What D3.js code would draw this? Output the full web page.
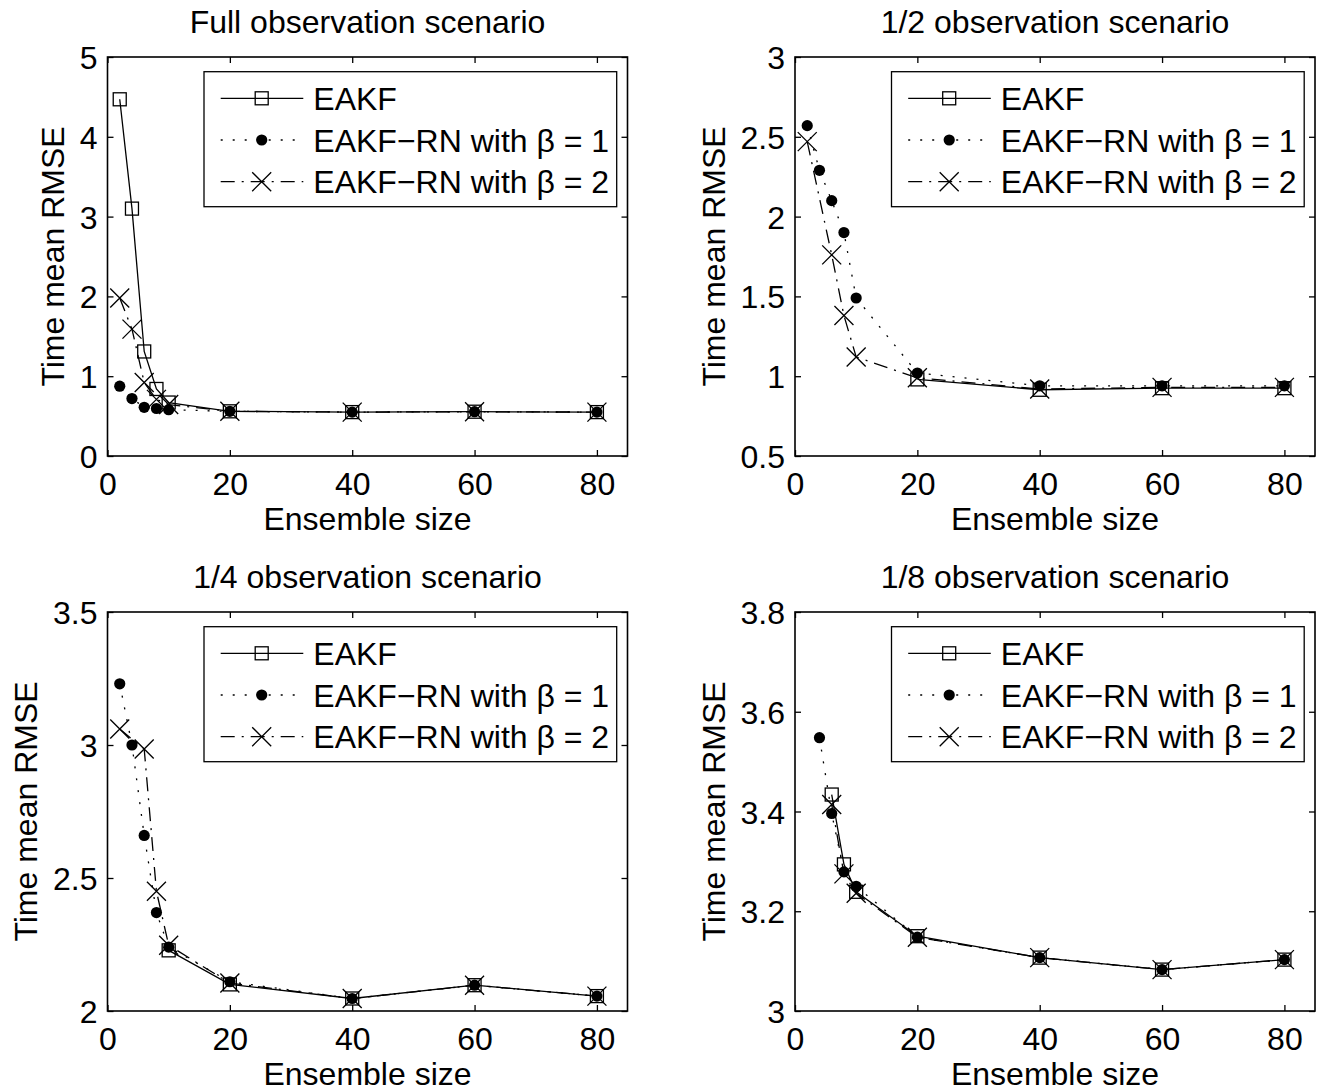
<!DOCTYPE html>
<html>
<head>
<meta charset="utf-8">
<script src="https://cdn.jsdelivr.net/npm/d3@7"></script>
<style>
  html, body { margin: 0; padding: 0; background: #fff; }
  svg text { font-family: "Liberation Sans", Arial, Helvetica, sans-serif; fill: #000; }
</style>
</head>
<body>
<svg id="chart" width="1320" height="1092"></svg>
<script>
// ---- Data ----
const ensembleSizes = [2, 4, 6, 8, 10, 20, 40, 60, 80];
const seriesNames = ["EAKF", "EAKF\u2212RN with \u03b2 = 1", "EAKF\u2212RN with \u03b2 = 2"];
const panelTitles = ["Full observation scenario", "1/2 observation scenario", "1/4 observation scenario", "1/8 observation scenario"];
const xTicks = [0, 20, 40, 60, 80];

// Full observation
const fullEAKF  = [4.47, 3.10, 1.31, 0.84, 0.67, 0.56, 0.55, 0.555, 0.55];
const fullBeta1 = [0.875, 0.72, 0.61, 0.595, 0.58, 0.56, 0.55, 0.555, 0.55];
const fullBeta2 = [1.98, 1.59, 0.92, 0.71, 0.645, 0.56, 0.55, 0.555, 0.55];
const fullYTicks = [0, 1, 2, 3, 4, 5];

// 1/2 observation
const halfEAKF  = [null, null, null, null, null, 0.98, 0.915, 0.925, 0.925];
const halfBeta1 = [2.57, 2.29, 2.10, 1.90, 1.49, 1.02, 0.94, 0.94, 0.94];
const halfBeta2 = [2.47, null, 1.76, 1.38, 1.12, 0.99, 0.92, 0.93, 0.93];
const halfYTicks = [0.5, 1, 1.5, 2, 2.5, 3];

// 1/4 observation
const quarterEAKF  = [null, null, null, null, 2.228, 2.10, 2.047, 2.097, 2.056];
const quarterBeta1 = [3.23, 3.00, 2.66, 2.37, 2.24, 2.11, 2.047, 2.097, 2.056];
const quarterBeta2 = [3.06, null, 2.985, 2.45, 2.247, 2.105, 2.047, 2.097, 2.056];
const quarterYTicks = [2, 2.5, 3, 3.5];

// 1/8 observation
const eighthEAKF  = [null, null, 3.434, 3.294, 3.239, 3.15, 3.107, 3.083, 3.103];
const eighthBeta1 = [null, 3.548, 3.396, 3.279, 3.25, 3.148, 3.107, 3.083, 3.103];
const eighthBeta2 = [null, null, 3.414, 3.275, 3.236, 3.148, 3.107, 3.083, 3.103];
const eighthYTicks = [3, 3.2, 3.4, 3.6, 3.8];

// ---- Layout ----
const svg = d3.select("#chart");
const W = 520, H = 399;
const FONT = 32;
const panels = [
  { left: 107.5, top: 57,  title: panelTitles[0], series: [fullEAKF, fullBeta1, fullBeta2], yDomain: [0, 5], yTicks: fullYTicks },
  { left: 795,   top: 57,  title: panelTitles[1], series: [halfEAKF, halfBeta1, halfBeta2], yDomain: [0.5, 3], yTicks: halfYTicks },
  { left: 107.5, top: 612, title: panelTitles[2], series: [quarterEAKF, quarterBeta1, quarterBeta2], yDomain: [2, 3.5], yTicks: quarterYTicks },
  { left: 795,   top: 612, title: panelTitles[3], series: [eighthEAKF, eighthBeta1, eighthBeta2], yDomain: [3, 3.8], yTicks: eighthYTicks }
];

const styles = [
  { dash: null,         marker: "square" },
  { dash: "2,10",       marker: "dot" },
  { dash: "14,7,2,7",   marker: "x" }
];

function drawMarker(g, type, x, y) {
  if (type === "square") {
    g.append("rect").attr("x", x - 6.5).attr("y", y - 6.5).attr("width", 13).attr("height", 13)
      .attr("fill", "none").attr("stroke", "#000").attr("stroke-width", 1.3);
  } else if (type === "dot") {
    g.append("circle").attr("cx", x).attr("cy", y).attr("r", 5.6).attr("fill", "#000");
  } else {
    const s = 9.5;
    g.append("path").attr("d", `M${x - s},${y - s}L${x + s},${y + s}M${x - s},${y + s}L${x + s},${y - s}`)
      .attr("stroke", "#000").attr("stroke-width", 1.3).attr("fill", "none");
  }
}

panels.forEach(p => {
  const g = svg.append("g").attr("transform", `translate(${p.left},${p.top})`);
  const x = d3.scaleLinear().domain([0, 85]).range([0, W]);
  const y = d3.scaleLinear().domain(p.yDomain).range([H, 0]);

  // plot series
  p.series.forEach((vals, si) => {
    const pts = ensembleSizes.map((e, i) => ({ e, v: vals[i] })).filter(d => d.v !== null);
    const line = d3.line().x(d => x(d.e)).y(d => y(d.v));
    g.append("path").attr("d", line(pts)).attr("fill", "none").attr("stroke", "#000")
      .attr("stroke-width", 1.3).attr("stroke-dasharray", styles[si].dash);
    const mg = g.append("g");
    pts.forEach(d => drawMarker(mg, styles[si].marker, x(d.e), y(d.v)));
  });

  // axes (inward ticks on all sides)
  const tl = 6;
  const axB = d3.axisBottom(x).tickValues(xTicks).tickSizeInner(-tl).tickSizeOuter(0);
  const axT = d3.axisTop(x).tickValues(xTicks).tickSizeInner(-tl).tickSizeOuter(0).tickFormat("");
  const axL = d3.axisLeft(y).tickValues(p.yTicks).tickSizeInner(-tl).tickSizeOuter(0).tickFormat(d3.format("~g"));
  const axR = d3.axisRight(y).tickValues(p.yTicks).tickSizeInner(-tl).tickSizeOuter(0).tickFormat("");

  const gb = g.append("g").attr("transform", `translate(0,${H})`).call(axB);
  const gt = g.append("g").call(axT);
  const gl = g.append("g").call(axL);
  const gr = g.append("g").attr("transform", `translate(${W},0)`).call(axR);
  [gb, gt, gl, gr].forEach(a => {
    a.select(".domain").remove();
    a.selectAll(".tick line").attr("stroke", "#000").attr("stroke-width", 1.3);
    a.selectAll("text").attr("font-size", FONT).attr("font-family", "Liberation Sans, Arial, sans-serif").attr("fill", "#000");
  });
  gb.selectAll(".tick text").attr("y", 38.5).attr("dy", null);
  gl.selectAll(".tick text").attr("x", -10).attr("dy", "0.36em");

  // width of y tick labels, to place the y label like the reference
  let maxW = 0;
  gl.selectAll(".tick text").each(function () { maxW = Math.max(maxW, this.getBBox().width); });

  // box
  g.append("rect").attr("x", 0).attr("y", 0).attr("width", W).attr("height", H)
    .attr("fill", "none").attr("stroke", "#000").attr("stroke-width", 1.6);

  // title
  g.append("text").attr("x", W / 2).attr("y", -24).attr("text-anchor", "middle")
    .attr("font-size", FONT).text(p.title);
  // x label
  g.append("text").attr("x", W / 2).attr("y", H + 74).attr("text-anchor", "middle")
    .attr("font-size", FONT).text("Ensemble size");
  // y label
  const labelCenter = -(10 + maxW + 27);
  g.append("text").attr("transform", `translate(${labelCenter + 11},${H / 2}) rotate(-90)`)
    .attr("text-anchor", "middle").attr("font-size", FONT).text("Time mean RMSE");

  // legend
  const lg = g.append("g").attr("transform", `translate(96.5,14.7)`);
  lg.append("rect").attr("width", 412.7).attr("height", 135).attr("fill", "#fff")
    .attr("stroke", "#000").attr("stroke-width", 1.3);
  seriesNames.forEach((name, si) => {
    const ry = 26.6 + si * 41.7;
    lg.append("line").attr("x1", 16.7).attr("x2", 99.3).attr("y1", ry).attr("y2", ry)
      .attr("stroke", "#000").attr("stroke-width", 1.3).attr("stroke-dasharray", styles[si].dash);
    drawMarker(lg, styles[si].marker, 57.7, ry);
    lg.append("text").attr("x", 109.3).attr("y", ry).attr("dy", "0.36em")
      .attr("font-size", FONT).text(name);
  });
});
</script>
</body>
</html>
